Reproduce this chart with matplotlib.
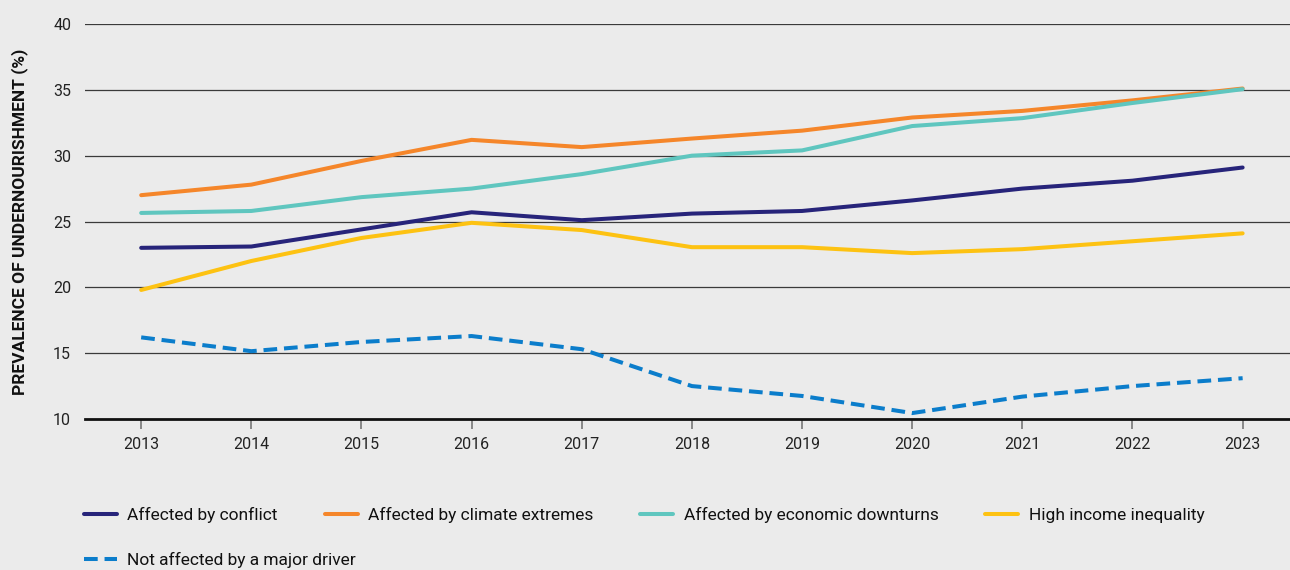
import matplotlib
matplotlib.use("Agg")
import matplotlib.pyplot as plt

plt.rcParams['font.family'] = ['Liberation Sans Narrow', 'Roboto', 'DejaVu Sans']

years = [2013, 2014, 2015, 2016, 2017, 2018, 2019, 2020, 2021, 2022, 2023]
conflict = [23.0, 23.1, 24.4, 25.7, 25.1, 25.6, 25.8, 26.6, 27.5, 28.1, 29.1]
climate = [27.0, 27.8, 29.6, 31.2, 30.65, 31.3, 31.9, 32.9, 33.4, 34.2, 35.1]
economic = [25.65, 25.8, 26.85, 27.5, 28.6, 30.0, 30.4, 32.25, 32.85, 34.0, 35.05]
inequality = [19.8, 22.0, 23.75, 24.9, 24.35, 23.05, 23.05, 22.6, 22.9, 23.5, 24.1]
not_affected = [16.2, 15.15, 15.85, 16.3, 15.3, 12.5, 11.75, 10.45, 11.7, 12.5, 13.1]

labels = ["Affected by conflict", "Affected by climate extremes",
          "Affected by economic downturns", "High income inequality",
          "Not affected by a major driver"]
colors = ["#27247A", "#F5862A", "#5FC6BF", "#FDC212", "#0B7DCB"]
yticks = [10, 15, 20, 25, 30, 35, 40]

bg = "#EBEBEB"
fig = plt.figure(figsize=(12.9, 5.7), dpi=100, facecolor=bg)
ax = fig.add_axes([85/1290, 1-419/570, 1-85/1290, (419-24)/570])
ax.set_facecolor(bg)

lw = 2.9
series = [conflict, climate, economic, inequality]
for s, c, l in zip(series, colors[:4], labels[:4]):
    ax.plot(years, s, color=c, lw=lw, solid_capstyle='round', label=l, zorder=3)
ax.plot(years, not_affected, color=colors[4], lw=lw, ls=(0, (3.4, 1.7)),
        dash_capstyle='butt', label=labels[4], zorder=3)

ax.set_xlim(2012.49, 2023.43)
ax.set_ylim(10, 40)
ax.set_yticks(yticks)
ax.set_xticks(years)
ax.set_xticklabels([str(y) for y in years], fontsize=11.5, color="#222222")
ax.set_yticklabels([str(y) for y in yticks], fontsize=11.5, color="#222222")
for y in yticks[1:]:
    ax.axhline(y, color="#3a3a3a", lw=0.9, zorder=1)
for s in ['top', 'right', 'left']:
    ax.spines[s].set_visible(False)
ax.spines['bottom'].set_color('#111111')
ax.spines['bottom'].set_linewidth(2.0)
ax.tick_params(axis='y', length=0, pad=10)
ax.tick_params(axis='x', length=7, width=1.2, color='#777777', pad=6, direction='out')

ax.set_ylabel("PREVALENCE OF UNDERNOURISHMENT (%)", fontsize=12.5, fontweight='bold',
              color="#111111", labelpad=18)

h = ax.get_legend_handles_labels()[0]
leg1 = fig.legend(h[:4], labels[:4], loc='upper left', bbox_to_anchor=(84/1290, 1-507/570),
                  ncol=4, frameon=False, fontsize=12.5, handlelength=1.9, handletextpad=0.6,
                  columnspacing=2.7, borderpad=0, borderaxespad=0)
for t in leg1.get_texts():
    t.set_color("#111111")
leg2 = fig.legend(h[4:], labels[4:], loc='upper left', bbox_to_anchor=(84/1290, 1-552/570),
                  ncol=1, frameon=False, fontsize=12.5, handlelength=1.9, handletextpad=0.6,
                  borderpad=0, borderaxespad=0)
for t in leg2.get_texts():
    t.set_color("#111111")

fig.savefig("out.png", dpi=100, facecolor=bg)
